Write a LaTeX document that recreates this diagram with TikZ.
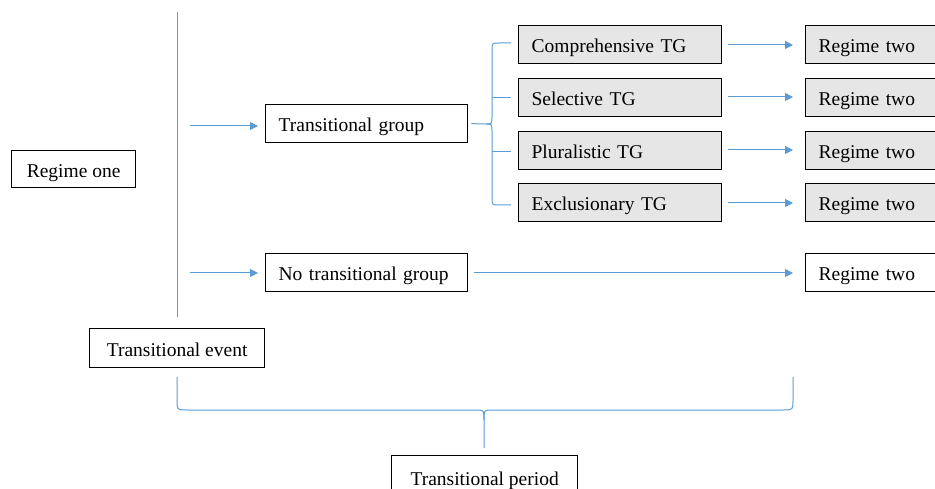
\documentclass[tikz,border=0pt]{standalone}
\usepackage{fontspec}
\setmainfont{Liberation Serif}
\usetikzlibrary{arrows.meta}
\definecolor{linkblue}{HTML}{5B9BD5}
\definecolor{boxgray}{HTML}{E7E6E6}
\begin{document}
\begin{tikzpicture}[x=1pt,y=-1pt,
  plainbox/.style={draw=black,line width=1.3pt,fill=white,anchor=north west,inner ysep=0pt,inner xsep=0pt,
    text height=16.5pt,text depth=0.5pt,font=\fontsize{19.5}{22}\selectfont},
  graybox/.style={plainbox,fill=boxgray},
  leftbox/.style={plainbox,inner xsep=13pt,align=left,text width=#1},
  link/.style={draw=linkblue,line width=1pt},
  arr/.style={link,-{Triangle[length=8pt,width=8pt,fill=linkblue]}}]
\useasboundingbox (0,0) rectangle (935,489);
% boxes (placed by their corners)
\node[plainbox,minimum width=124pt,minimum height=37pt] (r1) at (11,150) {Regime one};
\node[plainbox,minimum width=175pt,minimum height=39pt] (te) at (89,328) {Transitional event};
\node[leftbox=176pt,minimum width=202pt,minimum height=38pt] (tg) at (265,104) {Transitional group};
\node[leftbox=176pt,minimum width=202pt,minimum height=38pt] (ntg) at (265,253) {No transitional group};
\foreach \n/\y/\t in {c/25/Comprehensive TG,s/78/Selective TG,p/131/Pluralistic TG,e/183/Exclusionary TG}{
  \node[leftbox=177pt,graybox,minimum width=203pt,minimum height=38pt] (\n) at (518,\y) {\t};
  \node[leftbox=120pt,graybox,minimum width=146pt,minimum height=38pt] (r2\n) at (805,\y) {Regime two};
}
\node[leftbox=120pt,minimum width=146pt,minimum height=38pt] (r2n) at (805,253) {Regime two};
\node[plainbox,minimum width=186pt,minimum height=44pt] (tp) at (391,455) {Transitional period};
% time line of the transitional event
\coordinate (vtop) at (177,12);
\coordinate (vbot) at (177,317);
\draw[link] (vtop) -- (vbot);
% arrows into the two branches
\coordinate (a1) at (190,126);
\coordinate (a2) at (190,273);
\draw[arr] (a1) -- ([xshift=-7pt]tg.west |- a1);
\draw[arr] (a2) -- ([xshift=-7pt]ntg.west |- a2);
% bracket fanning out to the four kinds of group
\draw[link] ([xshift=3pt]tg.east) -- (486,124) .. controls (492,124) .. (492,116) -- (492,50)
  .. controls (492,43) .. (500,43) -- ([xshift=-7pt]c.west |- 0,43);
\draw[link] (486,124) .. controls (492,124) .. (492,132) -- (492,198)
  .. controls (492,205) .. (500,205) -- ([xshift=-7pt]e.west |- 0,205);
\draw[link] (492,98) -- ([xshift=-7pt]s.west |- 0,98);
\draw[link] (492,152) -- ([xshift=-7pt]p.west |- 0,152);
% arrows into regime two
\foreach \n/\y in {c/45,s/97,p/150,e/203}{
  \coordinate (b\n) at (728,\y);
  \draw[arr] (b\n) -- ([xshift=-12pt]r2\n.west |- b\n);
}
\coordinate (bn) at (474,273);
\draw[arr] (bn) -- ([xshift=-12pt]r2n.west |- bn);
% brace spanning the transitional period
\draw[link] (177,377) -- (177,400) .. controls (177,410) .. (187,410) -- (476,410)
  .. controls (484,410) .. (484,420) -- (484,448);
\draw[link] (793,377) -- (793,400) .. controls (793,410) .. (783,410) -- (492,410)
  .. controls (484,410) .. (484,420);
\end{tikzpicture}
\end{document}
